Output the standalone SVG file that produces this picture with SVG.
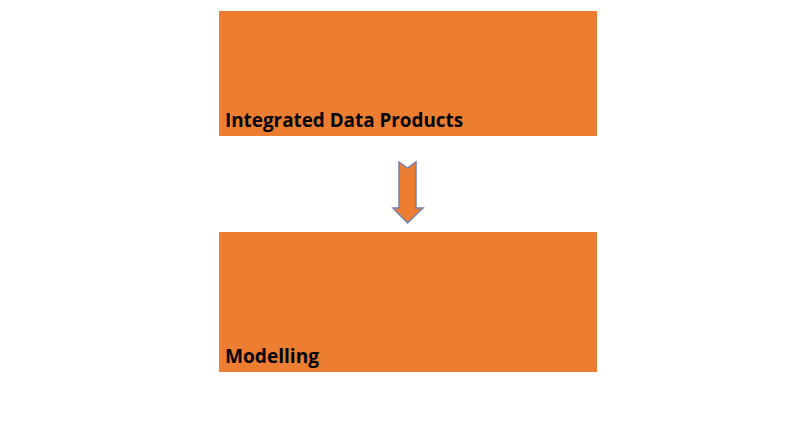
<svg xmlns="http://www.w3.org/2000/svg" width="790" height="444" viewBox="0 0 790 444">
<style>
.box{fill:#ED7D31;}
.lbl{font-family:"Open Sans","Liberation Sans",sans-serif;font-weight:bold;font-size:20px;fill:#000;}
.arr{fill:#ED7D31;stroke:#7382B0;stroke-width:1.5;stroke-linejoin:miter;}
</style>
<rect width="790" height="444" fill="#fff"/>
<g id="node-integrated">
<rect class="box" x="219" y="11" width="378" height="125"/>
<text class="lbl" x="225" y="127" textLength="238" lengthAdjust="spacingAndGlyphs">Integrated Data Products</text>
</g>
<g id="node-modelling">
<rect class="box" x="219" y="232" width="378" height="140"/>
<text class="lbl" x="225" y="363" textLength="94" lengthAdjust="spacingAndGlyphs">Modelling</text>
</g>
<g id="connectors">
<path class="arr" d="M399,162 L407.5,168 L416,162 L416,208 L423,208 L407.5,223 L393,208 L399,208 Z"/>
</g>
</svg>
